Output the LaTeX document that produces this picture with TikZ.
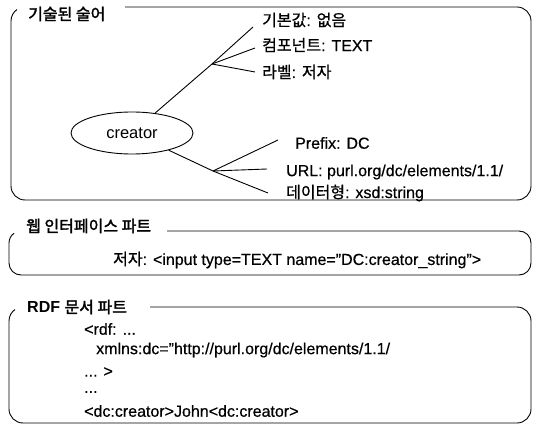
\documentclass[tikz,border=0pt]{standalone}
\usepackage{fontspec}
\setmainfont{Liberation Sans}[FakeBold=0.5]
\newfontfamily\plainsans{Liberation Sans}
\newfontfamily\kr{Noto Sans CJK KR}[FakeBold=0.9]
\newfontfamily\krb{Noto Sans CJK KR}[FakeBold=1.8]
\newfontfamily\latb{Liberation Sans Bold}
\usetikzlibrary{shapes.geometric}
\begin{document}
\begin{tikzpicture}[x=1pt,y=1pt,
  boxline/.style={draw=black,line width=0.9pt},
  conn/.style={draw=black,line width=0.9pt},
  lbl/.style={anchor=west,inner sep=0pt,font=\fontsize{16}{18}\selectfont},
  ttl/.style={anchor=west,inner sep=0pt,font=\fontsize{16}{18}\selectfont\latb},
  term/.style={ellipse,draw=black,line width=0.9pt,minimum width=122pt,minimum height=42pt,inner sep=0pt,font=\fontsize{16.5}{18}\selectfont\plainsans}]
\useasboundingbox (0,0) rectangle (535,426);
% frames
\draw[boxline] (125,419) -- (517,419) arc[start angle=90,end angle=0,radius=14]
  -- (531,240) arc[start angle=0,end angle=-90,radius=14]
  -- (25,226) arc[start angle=-90,end angle=-180,radius=14]
  -- (11,405) arc[start angle=180,end angle=125,radius=14];
\draw[boxline] (167,195) -- (519,195) arc[start angle=90,end angle=0,radius=12]
  -- (531,163) arc[start angle=0,end angle=-90,radius=12]
  -- (21,151) arc[start angle=-90,end angle=-180,radius=12]
  -- (9,183) arc[start angle=180,end angle=125,radius=12];
\draw[boxline] (150,119) -- (517,119) arc[start angle=90,end angle=0,radius=14]
  -- (531,17) arc[start angle=0,end angle=-90,radius=14]
  -- (23,3) arc[start angle=-90,end angle=-180,radius=14]
  -- (9,105) arc[start angle=180,end angle=125,radius=14];
% titles
\node[ttl] (t1) at (28,412) {{\krb 기술된 술어}};
\node[ttl] (t2) at (26,200) {{\krb 웹 인터페이스 파트}};
\node[ttl] (t3) at (27,119) {RDF {\krb 문서 파트}};
% tree
\node[term] (c) at (132,293) {creator};
\coordinate (b1) at (212,362);
\coordinate (e0) at (253,399);
\coordinate (e1) at (255,378);
\coordinate (e2) at (255,354);
\coordinate (b2) at (213,255);
\coordinate (e3) at (268,233);
\coordinate (e4) at (278,286);
\coordinate (e5) at (267,257);
\draw[conn] (c) -- (b1) -- (e0);
\draw[conn] (b1) -- (e1);
\draw[conn] (b1) -- (e2);
\draw[conn] (c) -- (b2) -- (e3);
\draw[conn] (b2) -- (e4);
\draw[conn] (b2) -- (e5);
\node[lbl] (l1) at (262,406) {{\kr 기본값}: {\kr 없음}};
\node[lbl] (l2) at (262,381) {{\kr 컴포넌트}: TEXT};
\node[lbl] (l3) at (262,354) {{\kr 라벨}: {\kr 저자}};
\node[lbl] (l4) at (295,283) {Prefix: DC};
\node[lbl] (l5) at (286,254) {URL: purl.org/dc/elements/1.1/};
\node[lbl] (l6) at (286,233) {{\kr 데이터형}: xsd:string};
% web interface part
\node[lbl] (w1) at (113,166) {{\kr 저자}: <input type=TEXT name="DC:creator\_string">};
% RDF part
\node[lbl] (r1) at (84,97) {<rdf: ...};
\node[lbl] (r2) at (96,76) {xmlns:dc="http://purl.org/dc/elements/1.1/};
\node[lbl] (r3) at (84,54) {... >};
\node[lbl] (r4) at (84,34) {...};
\node[lbl] (r5) at (84,15) {<dc:creator>John<dc:creator>};
\end{tikzpicture}
\end{document}
